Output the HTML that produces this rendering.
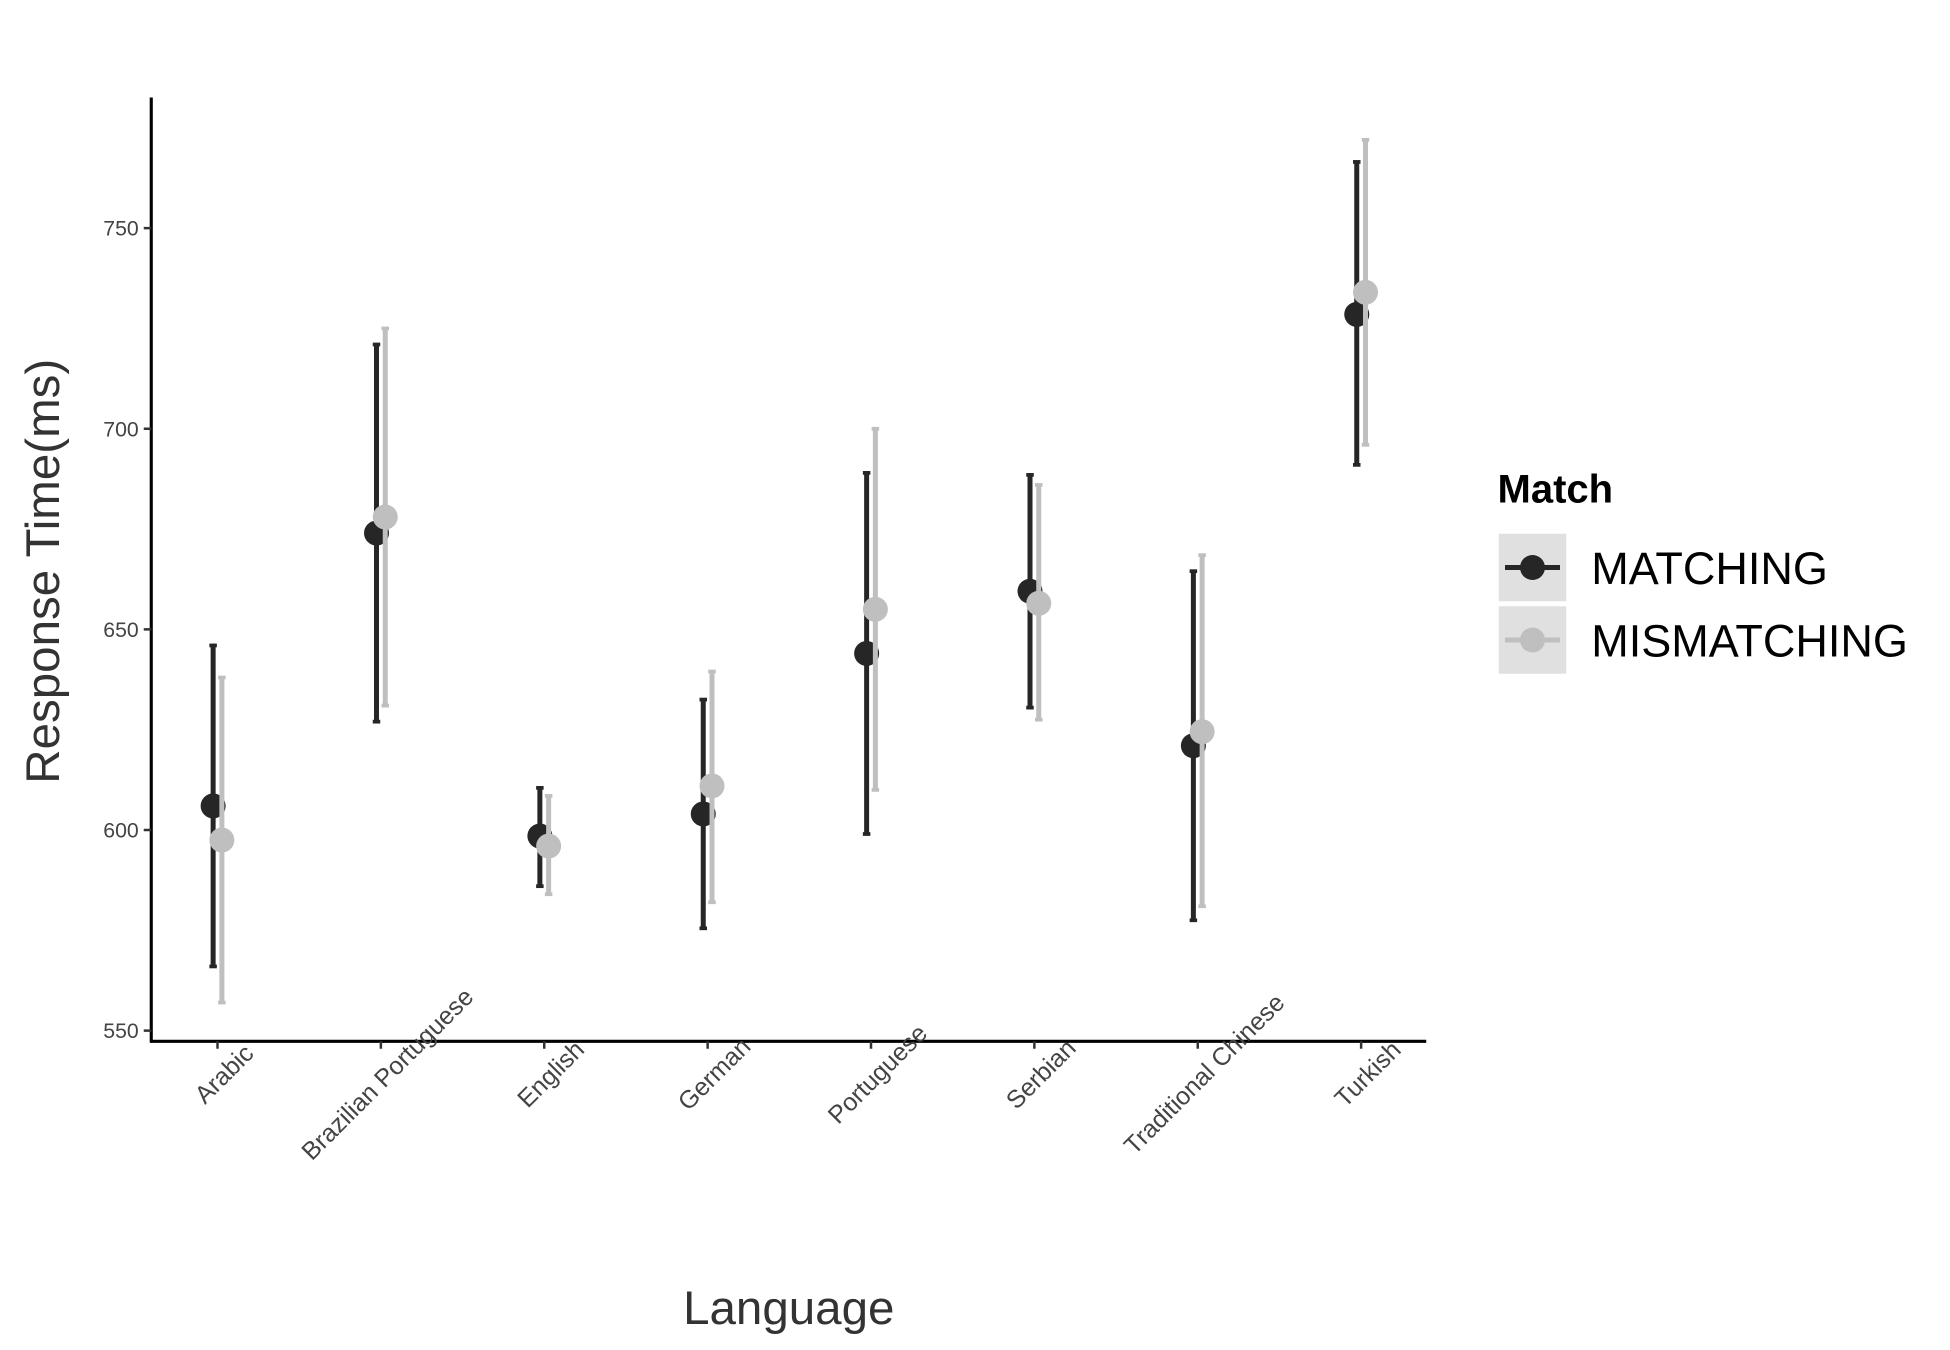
<!DOCTYPE html>
<html><head><meta charset="utf-8"><style>
html,body{margin:0;padding:0;background:#fff;}
svg{display:block;font-family:"Liberation Sans",sans-serif;}
</style></head><body>
<svg id="chart" width="1950" height="1350" viewBox="0 0 1560 1080" xmlns="http://www.w3.org/2000/svg">
<g id="plot"></g>
<text transform="translate(47,457) rotate(-90)" text-anchor="middle" font-size="38" fill="#333">Response Time(ms)</text>
<text x="631" y="1059" text-anchor="middle" font-size="38" fill="#333">Language</text>
<g>
<text x="1198" y="402" font-size="32" font-weight="bold">Match</text>
<g>
<rect x="1199" y="427" width="54" height="54" fill="#e0e0e0"/>
<line x1="1204" y1="454" x2="1248" y2="454" stroke="#262626" stroke-width="4"/>
<circle cx="1226" cy="454" r="10" fill="#262626"/>
<text x="1273" y="467" font-size="36">MATCHING</text></g>
<g>
<rect x="1199" y="485" width="54" height="54" fill="#e0e0e0"/>
<line x1="1204" y1="512" x2="1248" y2="512" stroke="#bfbfbf" stroke-width="4"/>
<circle cx="1226" cy="512" r="10" fill="#bfbfbf"/>
<text x="1273" y="525" font-size="36">MISMATCHING</text></g>
</g>
</svg>
<script>
const categories=["Arabic","Brazilian Portuguese","English","German","Portuguese","Serbian","Traditional Chinese","Turkish"];
const matchMean=[606,674,598.5,604,644,659.5,621,728.5];
const matchLow=[566,627,586,575.5,599,630.5,577.5,691];
const matchHigh=[646,721,610.5,632.5,689,688.5,664.5,766.5];
const mismatchMean=[597.5,678,596,611,655,656.5,624.5,734];
const mismatchLow=[557,631,584,582,610,627.5,581,696];
const mismatchHigh=[638,725,608.5,639.5,700,686,668.5,772];
const yTicks=[550,600,650,700,750];
const NS="http://www.w3.org/2000/svg";
const g=document.getElementById('plot');
function y(v){return 664-(v-600)*3.21;}
function x(i){return 174+i*130.7;}
function mk(t,a,p){const e=document.createElementNS(NS,t);for(const k in a)e.setAttribute(k,a[k]);(p||g).appendChild(e);return e;}
let e;
e=mk('line',{x1:121,y1:78,x2:121,y2:834,stroke:'#000','stroke-width':2.5});


e=mk('line',{x1:120,y1:833,x2:1141,y2:833,stroke:'#000','stroke-width':2.5});


yTicks.forEach(v=>{
  mk('line',{x1:115,y1:y(v),x2:121,y2:y(v),stroke:'#333','stroke-width':2});
  e=mk('text',{x:111,y:y(v)+6,'text-anchor':'end','font-size':17,fill:'#444'});
  e.textContent=v;
  
  
});
categories.forEach((c,i)=>{
  mk('line',{x1:x(i),y1:833,x2:x(i),y2:839,stroke:'#333','stroke-width':2});
  e=mk('text',{transform:`translate(${x(i)+10},864) rotate(-45)`,'text-anchor':'middle','font-size':20,fill:'#444'});
  e.textContent=c;
  
  
});
function series(mean,lo,hi,off,col,name){
  mean.forEach((m,i)=>{
    const cx=x(i)+off;
    const s=mk('g',{});
    
    
    mk('line',{x1:cx,y1:y(lo[i]),x2:cx,y2:y(hi[i]),stroke:col,'stroke-width':4},s);
    mk('line',{x1:cx-3,y1:y(lo[i]),x2:cx+3,y2:y(lo[i]),stroke:col,'stroke-width':3},s);
    mk('line',{x1:cx-3,y1:y(hi[i]),x2:cx+3,y2:y(hi[i]),stroke:col,'stroke-width':3},s);
    mk('circle',{cx:cx,cy:y(m),r:10,fill:col},s);
  });
}
series(matchMean,matchLow,matchHigh,-3.5,'#262626','matching-point');
series(mismatchMean,mismatchLow,mismatchHigh,3.5,'#bfbfbf','mismatching-point');
</script>
</body></html>
